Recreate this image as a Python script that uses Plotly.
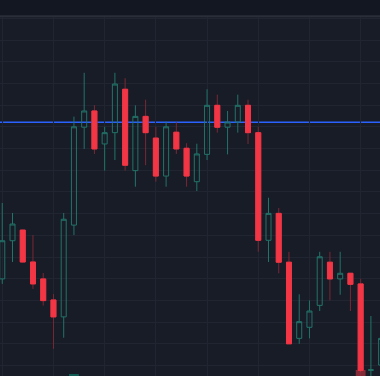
import plotly.graph_objects as go

# ---- data ----
idx = list(range(38))
opens  = [104.99, 106.75, 107.24, 105.77, 104.99, 104.02, 103.24, 107.47, 111.98, 112.73,
          111.21, 111.73, 113.73, 109.98, 112.48, 111.48, 109.73, 111.75, 111.01, 109.47,
          110.73, 112.99, 111.98, 112.22, 112.99, 111.73, 106.77, 108.01, 105.76, 102.25,
          102.76, 103.77, 105.76, 104.99, 105.25, 104.76, 100.78, 101.02]
highs  = [108.49, 108.03, 107.26, 107.01, 105.26, 104.29, 108.03, 112.47, 114.49, 113.00,
          112.00, 114.49, 114.24, 112.99, 113.25, 112.00, 112.24, 112.21, 111.24, 111.22,
          113.73, 113.48, 112.73, 113.48, 113.25, 112.00, 108.73, 108.26, 106.24, 104.28,
          104.00, 106.24, 106.24, 106.24, 105.27, 105.00, 103.28, 102.40]
lows   = [104.76, 105.77, 105.76, 104.53, 103.76, 101.77, 102.28, 107.01, 110.98, 110.75,
          109.98, 110.47, 109.98, 109.24, 110.23, 109.47, 109.24, 110.75, 109.24, 109.04,
          110.47, 111.73, 110.73, 111.73, 111.21, 106.24, 105.77, 105.25, 102.00, 102.00,
          102.25, 103.51, 104.00, 104.26, 103.51, 100.70, 100.40, 100.90]
closes = [106.75, 107.52, 105.77, 104.76, 103.99, 103.24, 107.74, 112.00, 112.73, 110.98,
          111.73, 113.97, 110.23, 112.48, 111.73, 109.73, 112.00, 110.98, 109.73, 110.75,
          112.99, 111.98, 112.22, 112.99, 111.73, 106.77, 108.01, 105.76, 102.00, 103.02,
          103.51, 106.01, 104.99, 105.25, 104.74, 100.78, 100.80, 102.25]
volumes = [None] * 38
volumes[7] = 2
volumes[35] = 6
level_price = 112.21

# ---- styles ----
BG_HEADER = "#131722"
BG_PLOT = "#181c27"
GRID = "#212532"
TEAL = "rgb(34,115,105)"
RED = "#f23645"
RED_WICK = "rgb(122,40,52)"

body_hi = [max(o, c) for o, c in zip(opens, closes)]
body_lo = [min(o, c) for o, c in zip(opens, closes)]
vol_colors = [RED if c < o else "#089981" for o, c in zip(opens, closes)]

fig = go.Figure()

# wicks + hollow increasing bodies
fig.add_trace(go.Candlestick(
    x=idx, open=opens, high=highs, low=lows, close=closes,
    increasing=dict(line=dict(color=TEAL, width=1), fillcolor="rgba(0,0,0,0)"),
    decreasing=dict(line=dict(color=RED_WICK, width=1), fillcolor=RED),
    showlegend=False, hoverinfo="skip",
))
# bright bodies for decreasing candles
fig.add_trace(go.Candlestick(
    x=idx, open=opens, high=body_hi, low=body_lo, close=closes,
    increasing=dict(line=dict(color="rgba(0,0,0,0)", width=1), fillcolor="rgba(0,0,0,0)"),
    decreasing=dict(line=dict(color=RED, width=1), fillcolor=RED),
    showlegend=False, hoverinfo="skip",
))
# volume peeking at bottom
fig.add_trace(go.Bar(
    x=idx, y=volumes, yaxis="y2", marker=dict(color=vol_colors, opacity=0.5, line=dict(width=0)),
    showlegend=False, hoverinfo="skip",
))

fig.update_layout(
    width=380, height=376,
    margin=dict(l=0, r=0, t=17, b=0),
    paper_bgcolor=BG_HEADER, plot_bgcolor=BG_PLOT,
    boxgap=0.3, bargap=0.04,
    xaxis=dict(range=[-0.2207, 36.889], showticklabels=False, showgrid=True, gridcolor=GRID,
               gridwidth=1, tick0=0, dtick=5, zeroline=False, rangeslider=dict(visible=False),
               showline=False, fixedrange=True),
    yaxis=dict(range=[100.516, 117.06], showticklabels=False, showgrid=True, gridcolor=GRID,
               gridwidth=1, tick0=0, dtick=1, zeroline=False, showline=False, fixedrange=True),
    yaxis2=dict(range=[0, 359], overlaying="y", visible=False, showgrid=False, fixedrange=True),
    shapes=[
        dict(type="line", xref="paper", yref="y", x0=0, x1=1, y0=level_price, y1=level_price,
             line=dict(color="#2962ff", width=1.5), layer="between"),
        dict(type="line", xref="paper", yref="paper", x0=0, x1=1, y0=1 + 0.7 / 359, y1=1 + 0.7 / 359,
             line=dict(color="#2a2e39", width=2), layer="above"),
    ],
)

fig.write_html("out.html", config={"displayModeBar": False},
               post_script="document.body.style.margin='0';document.body.style.overflow='hidden';")
